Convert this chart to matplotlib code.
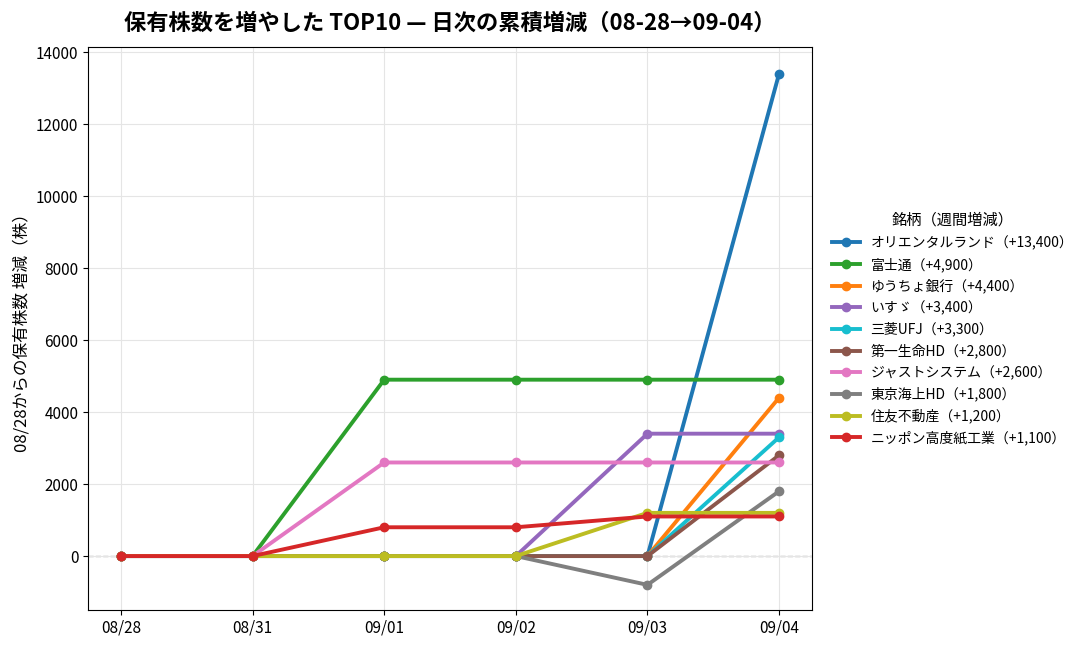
import matplotlib
matplotlib.use("Agg")
import matplotlib.pyplot as plt

plt.rcParams['font.family'] = ['Noto Sans CJK JP', 'DejaVu Sans']

# dates and cumulative change per stock
dates = ["08/28", "08/31", "09/01", "09/02", "09/03", "09/04"]
names = ["オリエンタルランド（+13,400）", "富士通（+4,900）", "ゆうちょ銀行（+4,400）",
         "いすゞ（+3,400）", "三菱UFJ（+3,300）", "第一生命HD（+2,800）",
         "ジャストシステム（+2,600）", "東京海上HD（+1,800）", "住友不動産（+1,200）",
         "ニッポン高度紙工業（+1,100）"]
oriental = [0, 0, 0, 0, 0, 13400]
fujitsu = [0, 0, 4900, 4900, 4900, 4900]
yucho = [0, 0, 0, 0, 0, 4400]
isuzu = [0, 0, 0, 0, 3400, 3400]
mufg = [0, 0, 0, 0, 0, 3300]
daiichi = [0, 0, 0, 0, 0, 2800]
justsys = [0, 0, 2600, 2600, 2600, 2600]
tokio = [0, 0, 0, 0, -800, 1800]
sumitomo = [0, 0, 0, 0, 1200, 1200]
kodoshi = [0, 0, 800, 800, 1100, 1100]
series = [oriental, fujitsu, yucho, isuzu, mufg, daiichi, justsys, tokio, sumitomo, kodoshi]
colors = ["tab:blue", "tab:green", "tab:orange", "tab:purple", "tab:cyan",
          "tab:brown", "tab:pink", "tab:gray", "tab:olive", "tab:red"]

fig, ax = plt.subplots(figsize=(10.87, 6.49), dpi=100)
x = list(range(len(dates)))
for name, vals, c in zip(names, series, colors):
    ax.plot(x, vals, marker="o", markersize=6, linewidth=2.8, color=c, label=name)

ax.axhline(0, color="#aaaaaa", linestyle="--", linewidth=1, zorder=0)
ax.set_xticks(x)
ax.set_xticklabels(dates, fontsize=11)
ax.tick_params(axis="y", labelsize=11)
ax.set_xlim(-0.25, 5.25)
ax.set_ylim(-1500, 14150)
ax.grid(True, color="#e5e5e5")
ax.set_ylabel("08/28からの保有株数 増減（株）", fontsize=12)
ax.set_title("保有株数を増やした TOP10 — 日次の累積増減（08-28→09-04）",
             fontsize=16, fontweight="bold", pad=12)
ax.legend(title="銘柄（週間増減）", loc="center left", bbox_to_anchor=(1.01, 0.5),
          frameon=False, fontsize=10, title_fontsize=11)
plt.subplots_adjust(left=0.081, right=0.747, top=0.928, bottom=0.06)
plt.savefig("out.png")
